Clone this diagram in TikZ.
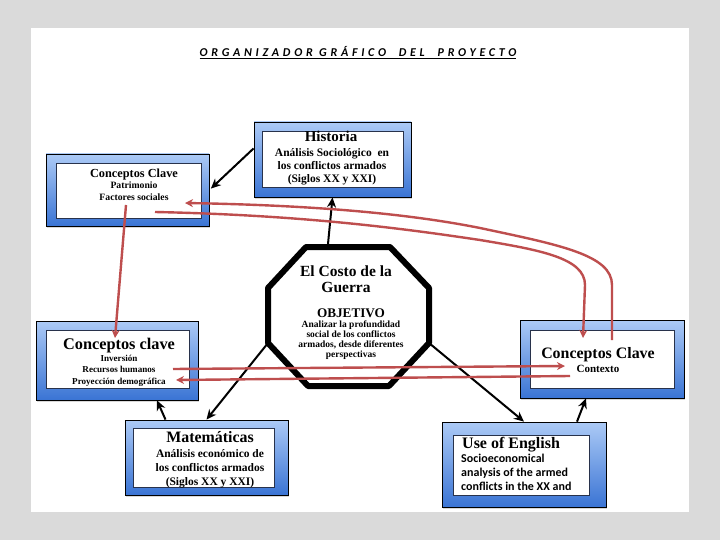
\documentclass[tikz,border=0pt]{standalone}
\usepackage{fontspec}
\setmainfont{Liberation Serif}
\newfontfamily\headfont[LetterSpace=31]{Carlito}
\newfontfamily\engfont{Carlito}
\usetikzlibrary{arrows.meta,shadows}
\definecolor{paper}{RGB}{218,218,218}
\definecolor{skyhi}{RGB}{172,202,246}
\definecolor{skylo}{RGB}{58,116,212}
\definecolor{rim}{RGB}{40,50,75}
\definecolor{rust}{RGB}{190,78,78}
\tikzset{
  >={Stealth[length=10pt,width=9pt]},
  frame/.style={draw=black,line width=0.8pt,top color=skyhi,bottom color=skylo,inner sep=0pt,
    drop shadow={opacity=0.3,shadow xshift=1pt,shadow yshift=-2pt}},
  pane/.style={draw=rim,line width=0.8pt,fill=white,inner sep=0pt},
  head/.style={font=\fontsize{#1}{#1}\selectfont\bfseries,inner sep=0pt,anchor=base},
  head/.default=14,
  body/.style 2 args={font=\fontsize{#1}{#2}\selectfont\bfseries,align=center,inner sep=0pt,anchor=north},
  link/.style={->,line width=2pt,draw=black},
  thread/.style={-{Stealth[length=8pt,width=8pt]},line width=2.4pt,draw=rust},
  octa/.style={line width=6pt,line join=round,draw=black,fill=white},
}
\begin{document}
\begin{tikzpicture}[x=1pt,y=-1pt]
  \fill[paper] (0,0) rectangle (720,540);
  \useasboundingbox (0,0) rectangle (720,540);
  \fill[white] (31,28) rectangle (689,512);
  \node[font=\headfont\bfseries\itshape\fontsize{12}{12}\selectfont,anchor=base,inner sep=0pt] (title) at (358,57)
    {\underline{ORGANIZADOR GRÁFICO\ \ DEL\ \ PROYECTO}};

  % boxes
  \node[frame,minimum width=157pt,minimum height=75pt] (hist) at (332.5,159.5) {};
  \node[pane,minimum width=141pt,minimum height=56pt] (hist-in) at (332.5,159) {};
  \node[head=15] (hist-t) at (331,142) {Historia};
  \node[body={11.5}{13}] (hist-b) at (332,148) {Análisis Sociológico\ \ en\\los conflictos armados\\(Siglos XX y XXI)};

  \node[frame,minimum width=163pt,minimum height=72pt] (tl) at (127.5,190) {};
  \node[pane,minimum width=145pt,minimum height=55pt] (tl-in) at (128.5,190.5) {};
  \node[head=12.3] (tl-t) at (134,178) {Conceptos Clave};
  \node[body={9.7}{12}] (tl-b) at (134,181.6) {Patrimonio\\Factores sociales};

  \node[frame,minimum width=162pt,minimum height=79pt] (ml) at (117,360.5) {};
  \node[pane,minimum width=143pt,minimum height=58pt] (ml-in) at (117.5,359) {};
  \node[head=16.3] (ml-t) at (119,349) {Conceptos clave};
  \node[body={9.1}{11.5}] (ml-b) at (119,354.5) {Inversión\\Recursos humanos\\Proyección demográfica};

  \node[frame,minimum width=164pt,minimum height=78pt] (rc) at (602,359) {};
  \node[pane,minimum width=144pt,minimum height=58pt] (rc-in) at (602,359) {};
  \node[head=15.9] (rc-t) at (598,358) {Conceptos Clave};
  \node[head=11] (rc-b) at (598,372) {Contexto};

  \node[frame,minimum width=163pt,minimum height=75pt] (mat) at (206.5,457.5) {};
  \node[pane,minimum width=141pt,minimum height=59pt] (mat-in) at (203.5,457.5) {};
  \node[head=15.9] (mat-t) at (210,442) {Matemáticas};
  \begin{scope}
    \clip (mat-in.north west) rectangle (mat-in.south east);
    \node[body={11.5}{14}] (mat-b) at (210,449.5) {Análisis económico de\\los conflictos armados\\(Siglos XX y XXI)};
  \end{scope}

  \node[frame,minimum width=164pt,minimum height=85pt] (eng) at (524,464.5) {};
  \node[pane,minimum width=136pt,minimum height=60pt] (eng-in) at (521,465) {};
  \node[head=16,anchor=base west] (eng-t) at (462,448) {Use of English};
  \node[body={12}{14},font=\engfont\fontsize{12}{14}\selectfont\bfseries,align=left,anchor=north west] (eng-b) at (461,453.5)
    {Socioeconomical\\analysis of the armed\\conflicts in the XX and};

  % octagon
  \coordinate (o1) at (306,247); \coordinate (o2) at (390,247);
  \coordinate (o3) at (429,288); \coordinate (o4) at (429,343);
  \coordinate (o5) at (389,386); \coordinate (o6) at (308,386);
  \coordinate (o7) at (268,343); \coordinate (o8) at (268,288);
  \coordinate (ot) at (328,244);
  \draw[octa] (o1) -- (o2) -- (o3) -- (o4) -- (o5) -- (o6) -- (o7) -- (o8) -- cycle;
  \node[body={15.5}{16.5}] (cost) at (346,265.3) {El Costo de la\\Guerra};
  \node[head=13.2] (obj) at (351,317) {OBJETIVO};
  \node[body={9.5}{10.2}] (obj-b) at (351,320.4) {Analizar la profundidad\\social de los conflictos\\armados, desde diferentes\\perspectivas};

  % black links
  \draw[link] (ot) -- (hist.south);
  \draw[link,shorten >=2pt] (hist.172) -- (tl.east);
  \draw[link] (o7) -- (mat.north);
  \draw[link] (o4) -- (eng.north);
  \draw[link] ([xshift=-41pt]mat.north) -- ([xshift=40pt]ml.south);
  \draw[link] ([xshift=53pt]eng.north) -- ([xshift=-16pt]rc.south);

  % red threads
  \coordinate (fs) at (126,205); \coordinate (inv) at (115,338);
  \coordinate (ctx-a) at (612,340); \coordinate (pat) at (185,203);
  \coordinate (soc) at (155,212); \coordinate (ctx-b) at (583,338);
  \coordinate (rh) at (173,369); \coordinate (ctx-c) at (565,366);
  \coordinate (ctx-d) at (570,376); \coordinate (pd) at (176,380);
  \draw[thread] (fs) -- (inv);
  \draw[thread] (ctx-a) -- (612,285) .. controls (612,255) and (560,245) .. (480,228)
    .. controls (400,212) and (300,205) .. (pat);
  \draw[thread] (soc) .. controls (300,215) and (400,228) .. (480,240)
    .. controls (540,250) and (585,258) .. (585,285) -- (ctx-b);
  \draw[thread] (rh) -- (ctx-c);
  \draw[thread] (ctx-d) -- (pd);
\end{tikzpicture}
\end{document}
